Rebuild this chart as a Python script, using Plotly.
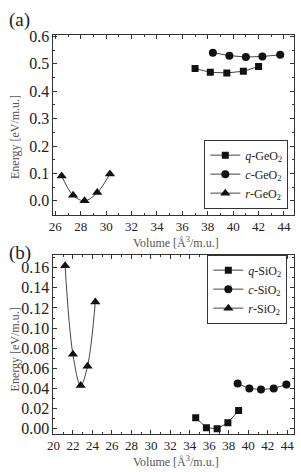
import plotly.graph_objects as go

# ---- data ----
ge_q_x = [37.0, 38.2, 39.5, 40.8, 42.0]
ge_q_y = [0.483, 0.469, 0.467, 0.473, 0.490]
ge_c_x = [38.4, 39.7, 41.0, 42.3, 43.7]
ge_c_y = [0.541, 0.530, 0.525, 0.527, 0.533]
ge_r_x = [26.5, 27.4, 28.3, 29.3, 30.3]
ge_r_y = [0.091, 0.020, 0.000, 0.030, 0.098]

si_q_x = [34.6, 35.7, 36.8, 37.9, 39.0]
si_q_y = [0.011, 0.001, 0.000, 0.006, 0.018]
si_c_x = [38.9, 40.1, 41.3, 42.6, 43.9]
si_c_y = [0.045, 0.040, 0.039, 0.040, 0.044]
si_r_x = [21.2, 22.0, 22.8, 23.5, 24.3]
si_r_y = [0.162, 0.074, 0.043, 0.062, 0.126]

ge_names = ["<i>q</i>-GeO<sub>2</sub>", "<i>c</i>-GeO<sub>2</sub>", "<i>r</i>-GeO<sub>2</sub>"]
si_names = ["<i>q</i>-SiO<sub>2</sub>", "<i>c</i>-SiO<sub>2</sub>", "<i>r</i>-SiO<sub>2</sub>"]
symbols = ["square", "circle", "triangle-up"]
msizes = [7, 8, 9]

x_title = "Volume [Å<sup>3</sup>/m.u.]"
y_title = "Energy [eV/m.u.]"

W, H = 301, 472
FONT = "Liberation Serif"

fig = go.Figure()

def add(x, y, name, sym, ms, xa, ya, legend, shape):
    fig.add_trace(go.Scatter(
        x=x, y=y, name=name, mode="lines+markers",
        line=dict(color="#444", width=1, shape=shape, smoothing=1.0),
        marker=dict(symbol=sym, size=ms, color="#111"),
        xaxis=xa, yaxis=ya, legend=legend))

ge_sets = [(ge_q_x, ge_q_y, "linear"), (ge_c_x, ge_c_y, "linear"), (ge_r_x, ge_r_y, "spline")]
si_sets = [(si_q_x, si_q_y, "linear"), (si_c_x, si_c_y, "linear"), (si_r_x, si_r_y, "spline")]
for (x, y, sh), n, s, m in zip(ge_sets, ge_names, symbols, msizes):
    add(x, y, n, s, m, "x", "y", "legend", sh)
for (x, y, sh), n, s, m in zip(si_sets, si_names, symbols, msizes):
    add(x, y, n, s, m, "x2", "y2", "legend2", sh)

def px_x(p):
    return p / W

def px_y(p):
    return 1 - p / H

axis_common = dict(
    showline=True, linecolor="#333", linewidth=1, mirror="ticks",
    ticks="inside", ticklen=4, tickcolor="#333", showgrid=False, zeroline=False,
)
xtf = dict(family=FONT, size=13, color="#222")
ytf = dict(family=FONT, size=16, color="#222")
title_font = dict(family=FONT, size=12, color="#555")
legend_font = dict(family=FONT, size=12, color="#222")

def minor(d):
    return dict(ticks="inside", ticklen=2, tickcolor="#333", dtick=d)

xdom = [px_x(47.5), px_x(294)]
fig.update_layout(
    width=W, height=H, margin=dict(l=0, r=0, t=0, b=0),
    paper_bgcolor="white", plot_bgcolor="white",
    font=dict(family=FONT, color="#222"),
    showlegend=True,
    xaxis=dict(domain=xdom, anchor="y", range=[25.85, 44.8], dtick=2, tick0=0,
               minor=minor(1), tickfont=xtf, tickangle=0, **axis_common),
    yaxis=dict(domain=[px_y(212), px_y(29)], anchor="x", range=[-0.05, 0.604], dtick=0.1,
               tickformat=".1f", minor=minor(0.05), tickfont=ytf, **axis_common),
    xaxis2=dict(domain=xdom, anchor="y2", range=[20, 44.7], dtick=2, tick0=0,
                minor=minor(1), tickfont=xtf, tickangle=0, **axis_common),
    yaxis2=dict(domain=[px_y(436), px_y(253)], anchor="x2", range=[-0.005, 0.173], dtick=0.02,
                tickformat=".2f", minor=minor(0.01), tickfont=ytf, **axis_common),
    legend=dict(x=px_x(288), y=px_y(206), xanchor="right", yanchor="bottom",
                bordercolor="#333", borderwidth=1, bgcolor="white",
                font=legend_font, tracegroupgap=0, itemwidth=30),
    legend2=dict(x=px_x(287), y=px_y(253), xanchor="right", yanchor="top",
                 bordercolor="#333", borderwidth=1, bgcolor="white",
                 font=legend_font, tracegroupgap=0, itemwidth=30),
    annotations=[
        dict(text="(a)", x=0, y=1, xref="paper", yref="paper", xanchor="left", yanchor="top",
             showarrow=False, font=dict(family=FONT, size=19, color="#222")),
        dict(text="(b)", x=0, y=px_y(238), xref="paper", yref="paper", xanchor="left", yanchor="top",
             showarrow=False, font=dict(family=FONT, size=19, color="#222")),
        dict(text=y_title, x=px_x(8), y=px_y(133), xref="paper", yref="paper", textangle=-90,
             xanchor="center", yanchor="middle", showarrow=False, font=title_font),
        dict(text=y_title, x=px_x(8), y=px_y(350), xref="paper", yref="paper", textangle=-90,
             xanchor="center", yanchor="middle", showarrow=False, font=title_font),
        dict(text=x_title, x=px_x(173), y=px_y(241), xref="paper", yref="paper",
             xanchor="center", yanchor="middle", showarrow=False, font=title_font),
        dict(text=x_title, x=px_x(173), y=px_y(464), xref="paper", yref="paper",
             xanchor="center", yanchor="middle", showarrow=False, font=title_font),
    ],
)

fig.write_html("out.html")
